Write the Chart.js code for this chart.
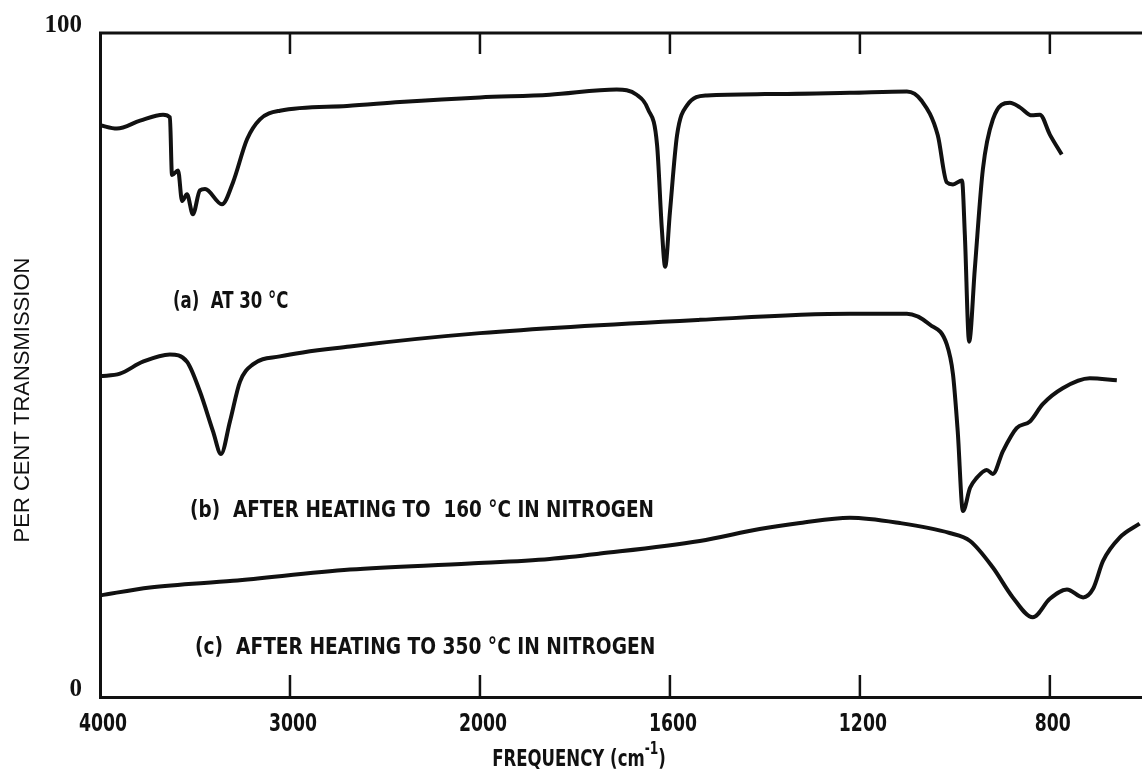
<!DOCTYPE html>
<html>
<head>
<meta charset="utf-8">
<script src="https://cdn.jsdelivr.net/npm/chart.js@4.4.1/dist/chart.umd.min.js"></script>
<style>
  body { margin: 0; background: #fff; }
  #wrap { width: 1142px; height: 780px; }
</style>
</head>
<body>
<div id="wrap"><canvas id="irChart"></canvas></div>
<script>
// axis ticks (wavenumber, cm-1) and % transmission
const tickFreqs = [4000, 3000, 2000, 1600, 1200, 800];
const yTicks = [0, 100];
const freqRange = [4000, 606];

// (a) at 30 C
const freqA = [4000, 3911, 3789, 3668, 3632, 3621, 3589, 3568, 3542, 3511, 3474, 3447, 3358, 3300, 3226, 3158, 3053, 2700, 2421, 2000, 1853, 1712, 1670, 1646, 1627, 1617, 1610, 1600, 1585, 1564, 1522, 1400, 1221, 1101, 1070, 1036, 1017, 1004, 985, 979, 970, 958, 941, 920, 884, 863, 838, 821, 800, 775];
const transA = [86.1, 85.6, 86.8, 87.7, 87.3, 78.6, 79.3, 74.7, 75.7, 72.7, 76.3, 76.5, 74.2, 77.5, 84.0, 87.0, 88.3, 89.0, 89.6, 90.3, 90.7, 91.5, 90.7, 88.5, 83.1, 70.5, 64.8, 73.0, 84.6, 89.1, 90.6, 90.8, 91.0, 91.2, 89.8, 84.6, 77.5, 77.2, 77.8, 69.6, 53.5, 64.5, 79.5, 87.0, 89.5, 88.8, 87.6, 87.7, 84.7, 81.7];

// (b) after heating to 160 C
const freqB = [4000, 3895, 3774, 3632, 3542, 3474, 3405, 3363, 3316, 3263, 3195, 3053, 2684, 2000, 1537, 1221, 1101, 1053, 1017, 1004, 994, 983, 968, 954, 933, 920, 899, 870, 842, 815, 773, 716, 659];
const transB = [48.3, 48.7, 50.5, 51.6, 50.5, 46.0, 40.0, 36.6, 41.5, 47.5, 50.1, 51.3, 52.8, 54.8, 56.8, 57.7, 57.7, 56.1, 53.1, 48.6, 40.0, 28.0, 31.5, 33.0, 34.2, 33.6, 37.0, 40.5, 41.5, 44.1, 46.5, 48.0, 47.7];

// (c) after heating to 350 C
const freqC = [4000, 3737, 3300, 2684, 2053, 1853, 1747, 1537, 1411, 1326, 1221, 1116, 1011, 968, 920, 878, 836, 800, 764, 730, 709, 688, 653, 611];
const transC = [15.3, 16.5, 17.5, 19.2, 20.1, 20.8, 21.6, 23.5, 25.3, 26.2, 27.0, 26.2, 24.7, 23.5, 19.5, 15.0, 12.0, 14.8, 16.2, 15.0, 16.3, 20.5, 24.0, 26.1];

const notes = ['(a)  AT 30 °C', '(b)  AFTER HEATING TO  160 °C IN NITROGEN', '(c)  AFTER HEATING TO 350 °C IN NITROGEN'];

// the paper scale halves its spacing below 2000 cm-1
function toPos(f) {
	return f >= 2000 ? (4000 - f) / 1000 : 2 + (2000 - f) / 400;
}

function makePoints(freqs, vals) {
	return freqs.map((f, i) => ({ x: toPos(f), y: vals[i] }));
}

const ink = '#111';
const narrow = '"Liberation Sans Narrow", "DejaVu Sans Condensed", sans-serif';

// text squeezed sideways, like the condensed lettering of the original
function squeezed(ctx, text, x, y, sx) {
	ctx.save();
	ctx.translate(x, y);
	ctx.scale(sx, 1);
	ctx.fillText(text, 0, 0);
	ctx.restore();
}

const framePlugin = {
	id: 'frame',
	afterDraw(chart) {
		const ctx = chart.ctx;
		const area = chart.chartArea;
		const xs = chart.scales.x;
		const ys = chart.scales.y;
		ctx.save();
		ctx.strokeStyle = ink;
		ctx.fillStyle = ink;
		// top edge
		ctx.lineWidth = 3;
		ctx.beginPath();
		ctx.moveTo(area.left - 1, area.top);
		ctx.lineTo(area.right, area.top);
		ctx.stroke();
		// inward tick marks top and bottom
		ctx.lineWidth = 2.5;
		tickFreqs.slice(1).forEach(f => {
			const px = xs.getPixelForValue(toPos(f));
			ctx.beginPath();
			ctx.moveTo(px, area.top);
			ctx.lineTo(px, area.top + 21);
			ctx.moveTo(px, area.bottom);
			ctx.lineTo(px, area.bottom - 22);
			ctx.stroke();
		});
		// x tick labels, tall and narrow
		ctx.font = 'bold 24px ' + narrow;
		ctx.textBaseline = 'middle';
		ctx.textAlign = 'center';
		tickFreqs.forEach(f => {
			squeezed(ctx, String(f), xs.getPixelForValue(toPos(f)) + 3, area.bottom + 28, 0.8);
		});
		// curve labels
		ctx.textAlign = 'left';
		ctx.font = 'bold 23px ' + narrow;
		const spots = [[3616, 59.5], [3526, 28.0], [3500, 7.3]];
		const squeeze = [0.8, 0.89, 0.9];
		notes.forEach((t, i) => {
			squeezed(ctx, t, xs.getPixelForValue(toPos(spots[i][0])), ys.getPixelForValue(spots[i][1]), squeeze[i]);
		});
		// y title
		ctx.save();
		ctx.translate(23, 400);
		ctx.rotate(-Math.PI / 2);
		ctx.textAlign = 'center';
		ctx.font = '22px "Liberation Sans", Arial, sans-serif';
		ctx.fillText('PER CENT TRANSMISSION', 0, 0);
		ctx.restore();
		// x title with superscript
		ctx.textBaseline = 'alphabetic';
		const sx = 0.8;
		const a = 'FREQUENCY (cm', b = '-1', c = ')';
		ctx.font = 'bold 23px ' + narrow;
		const wa = ctx.measureText(a).width * sx;
		const wc = ctx.measureText(c).width * sx;
		ctx.font = 'bold 17px ' + narrow;
		const wb = ctx.measureText(b).width * sx;
		const x0 = 579 - (wa + wb + wc) / 2;
		const yb = 766;
		ctx.font = 'bold 23px ' + narrow;
		squeezed(ctx, a, x0, yb, sx);
		squeezed(ctx, c, x0 + wa + wb, yb, sx);
		ctx.font = 'bold 17px ' + narrow;
		squeezed(ctx, b, x0 + wa, yb - 12, sx);
		ctx.restore();
	}
};

new Chart(document.getElementById('irChart'), {
	type: 'line',
	data: {
		datasets: [
			{ data: makePoints(freqA, transA) },
			{ data: makePoints(freqB, transB) },
			{ data: makePoints(freqC, transC) }
		]
	},
	options: {
		responsive: true,
		maintainAspectRatio: false,
		animation: false,
		layout: { padding: { top: 31, right: 0, bottom: 0, left: 0 } },
		elements: {
			point: { radius: 0 },
			line: { borderColor: ink, borderWidth: 4, cubicInterpolationMode: 'monotone', fill: false }
		},
		plugins: {
			legend: { display: false },
			tooltip: { enabled: false }
		},
		scales: {
			x: {
				type: 'linear',
				min: toPos(freqRange[0]),
				max: toPos(freqRange[1]),
				afterBuildTicks: (scale) => { scale.ticks = tickFreqs.map(f => ({ value: toPos(f) })); },
				afterFit: (scale) => { scale.height = 83; },
				grid: { display: false, drawTicks: false },
				border: { display: true, color: ink, width: 3 },
				ticks: { display: false }
			},
			y: {
				min: 0,
				max: 100,
				afterBuildTicks: (scale) => { scale.ticks = yTicks.map(v => ({ value: v })); },
				afterFit: (scale) => { scale.width = 100; },
				grid: { display: false, drawTicks: false },
				border: { display: true, color: ink, width: 3 },
				ticks: {
					color: ink,
					padding: 18,
					labelOffset: -7,
					font: { family: '"Liberation Serif", serif', size: 25, weight: 'bold' }
				}
			}
		}
	},
	plugins: [framePlugin]
});
</script>
</body>
</html>
